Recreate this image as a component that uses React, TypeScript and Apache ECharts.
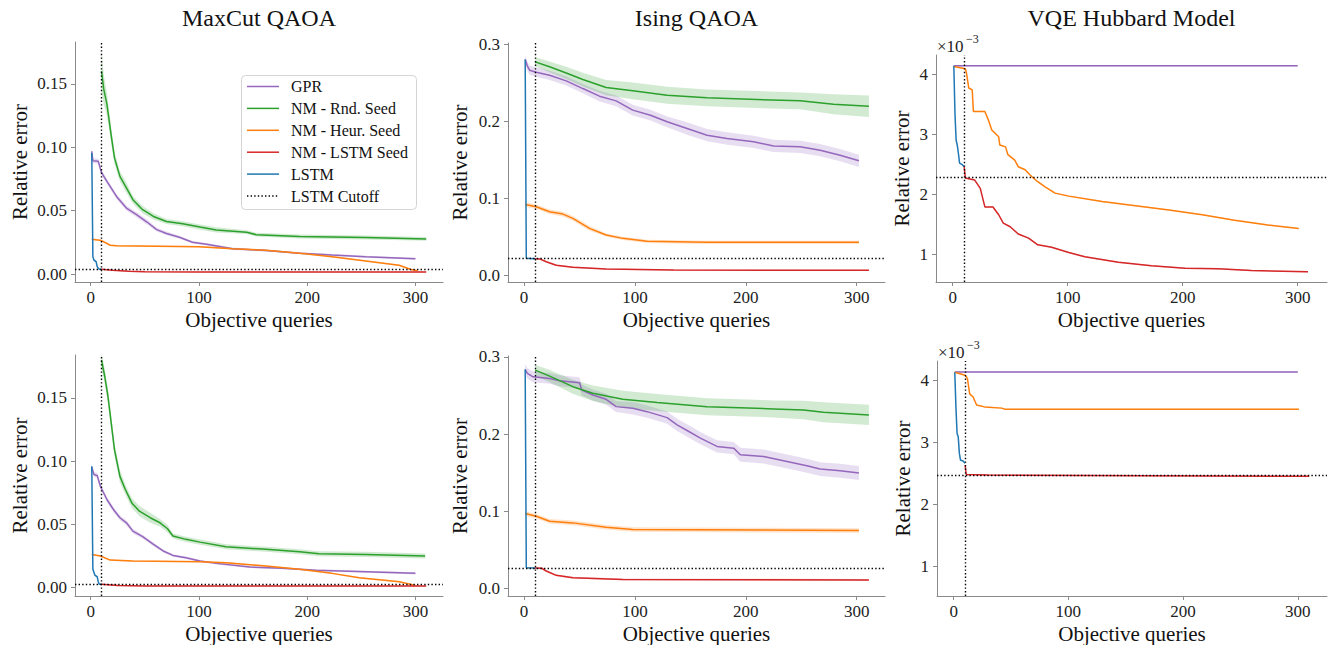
import React, { useEffect, useRef } from "react";
import * as echarts from "echarts";

const FONT = "'Liberation Serif', 'Times New Roman', serif";
const COLORS: Record<string, string> = {
  "GPR": "#9467bd",
  "NM - Rnd. Seed": "#2ca02c",
  "NM - Heur. Seed": "#ff7f0e",
  "NM - LSTM Seed": "#d62728",
  "LSTM": "#1f77b4",
  "LSTM Cutoff": "#000000",
};
const LEGEND_NAMES = ["GPR", "NM - Rnd. Seed", "NM - Heur. Seed", "NM - LSTM Seed", "LSTM", "LSTM Cutoff"];
const TITLES = ["MaxCut QAOA", "Ising QAOA", "VQE Hubbard Model"];
const X_TICKS = [0, 100, 200, 300];

// Each point: [objective queries, mean relative error, band half-width]
// ---- MaxCut QAOA (top)
const mcTopGPR = [[1,0.0968,0.002],[2,0.0894,0.002],[7,0.089,0.002],[10,0.08,0.002],[15,0.073,0.002],[24,0.061,0.002],[33,0.052,0.002],[42,0.047,0.002],[52,0.041,0.002],[61,0.035,0.0015],[70,0.032,0.0015],[82,0.029,0.0012],[94,0.025,0.001],[107,0.0235,0.001],[131,0.02,0.001],[162,0.0185,0.0008],[193,0.0164,0.0008],[223,0.015,0.0008],[254,0.0137,0.0008],[300,0.0121,0.0008]];
const mcTopRnd = [[10,0.16,0.016],[12,0.146,0.012],[15,0.134,0.009],[19,0.109,0.006],[22,0.0916,0.005],[27,0.077,0.004],[33,0.068,0.004],[39,0.0586,0.003],[48,0.0507,0.003],[58,0.0454,0.0025],[70,0.0414,0.002],[85,0.0396,0.002],[101,0.037,0.002],[116,0.0348,0.002],[144,0.033,0.0015],[153,0.031,0.0015],[193,0.0296,0.0015],[254,0.0288,0.0015],[310,0.0277,0.0015]];
const mcTopHeur = [[1,0.0274,0.0006],[10,0.0264,0.0006],[18,0.0227,0.0005],[24,0.0222,0.0005],[100,0.0216,0.0005],[131,0.02,0.0005],[162,0.0187,0.0005],[193,0.0164,0.0005],[223,0.0137,0.0005],[254,0.0103,0.0005],[285,0.0069,0.0005],[296,0.0035,0.0005],[302,0.0026,0.0005]];
const mcTopLstmSeed = [[10,0.0037,0.0004],[20,0.003,0.0004],[35,0.0022,0.0004],[50,0.0018,0.0004],[100,0.0016,0.0004],[310,0.0015,0.0004]];
const mcTopLstm = [[1,0.0955,0.002],[2,0.0137,0.001],[3,0.011,0.001],[5,0.0098,0.001],[6,0.0058,0.001],[7,0.0045,0.0008],[8,0.0037,0.0005],[10,0.0037,0.0005]];
const mcTopCutoff = [10, 0.0037];

// ---- Ising QAOA (top)
const isTopGPR = [[1,0.2805,0.006],[3,0.272,0.006],[5,0.2666,0.006],[11,0.264,0.006],[23,0.26,0.006],[38,0.2527,0.006],[53,0.2427,0.006],[68,0.2328,0.007],[83,0.2267,0.007],[98,0.2146,0.007],[114,0.208,0.007],[129,0.1994,0.007],[147,0.1907,0.008],[165,0.182,0.008],[183,0.1777,0.008],[207,0.1734,0.008],[225,0.168,0.008],[249,0.1669,0.008],[267,0.1625,0.008],[285,0.156,0.008],[302,0.1487,0.008]];
const isTopRnd = [[10,0.2774,0.006],[23,0.271,0.007],[38,0.263,0.008],[53,0.2544,0.009],[74,0.244,0.01],[98,0.2397,0.011],[129,0.234,0.011],[165,0.2306,0.011],[210,0.2284,0.011],[249,0.2267,0.011],[279,0.2224,0.013],[311,0.2198,0.014]];
const isTopHeur = [[1,0.0919,0.003],[11,0.0889,0.003],[23,0.0824,0.003],[35,0.0793,0.003],[44,0.0737,0.003],[59,0.0607,0.003],[74,0.052,0.002],[89,0.0477,0.002],[111,0.0438,0.002],[165,0.0425,0.002],[302,0.0425,0.002]];
const isTopLstmSeed = [[10,0.0212,0.001],[14,0.021,0.001],[20,0.0173,0.001],[29,0.0126,0.001],[44,0.01,0.001],[74,0.0078,0.0008],[135,0.0065,0.0008],[311,0.0061,0.0008]];
const isTopLstm = [[1,0.2805,0.004],[2,0.0217,0.001],[10,0.0212,0.001]];
const isTopCutoff = [10, 0.0212];

// ---- VQE Hubbard Model (top)
const vqTopGPR = [[1,4.14e-3,1e-5],[300,4.14e-3,1e-5]];
const vqTopHeur = [[1,4.13e-3,1e-5],[11,4.09e-3,1e-5],[12,4.02e-3,1e-5],[14,3.77e-3,1e-5],[17,3.74e-3,1e-5],[18,3.38e-3,1e-5],[28,3.38e-3,1e-5],[31,3.24e-3,1e-5],[34,3.07e-3,1e-5],[40,2.96e-3,1e-5],[41,2.82e-3,1e-5],[46,2.79e-3,1e-5],[48,2.66e-3,1e-5],[54,2.57e-3,1e-5],[57,2.46e-3,1e-5],[63,2.41e-3,1e-5],[69,2.29e-3,1e-5],[74,2.21e-3,1e-5],[80,2.13e-3,1e-5],[89,2.02e-3,1e-5],[101,1.97e-3,1e-5],[130,1.88e-3,1e-5],[159,1.81e-3,1e-5],[188,1.74e-3,1e-5],[217,1.66e-3,1e-5],[245,1.57e-3,1e-5],[274,1.49e-3,1e-5],[301,1.43e-3,1e-5]];
const vqTopLstmSeed = [[10,2.46e-3,1e-5],[11,2.27e-3,1e-5],[19,2.24e-3,1e-5],[24,2.1e-3,1e-5],[28,1.79e-3,1e-5],[35,1.79e-3,1e-5],[40,1.66e-3,1e-5],[44,1.52e-3,1e-5],[50,1.46e-3,1e-5],[57,1.34e-3,1e-5],[66,1.27e-3,1e-5],[74,1.16e-3,1e-5],[86,1.12e-3,1e-5],[101,1.03e-3,1e-5],[115,0.96e-3,1e-5],[144,0.87e-3,1e-5],[173,0.81e-3,1e-5],[202,0.77e-3,1e-5],[231,0.76e-3,1e-5],[260,0.73e-3,1e-5],[309,0.71e-3,1e-5]];
const vqTopLstm = [[1,4.14e-3,1e-5],[2,3.35e-3,1e-5],[3,2.9e-3,1e-5],[4,2.82e-3,1e-5],[5,2.68e-3,1e-5],[6,2.52e-3,1e-5],[8,2.5e-3,1e-5],[10,2.46e-3,1e-5]];
const vqTopCutoff = [10, 2.29e-3];

// ---- MaxCut QAOA (bottom)
const mcBotGPR = [[1,0.0953,0.002],[3,0.0895,0.002],[6,0.0887,0.002],[9,0.08,0.002],[15,0.0697,0.002],[21,0.0618,0.002],[27,0.0553,0.002],[33,0.0513,0.002],[39,0.0447,0.0018],[48,0.0403,0.0015],[58,0.0342,0.0015],[67,0.029,0.0012],[76,0.0255,0.001],[88,0.0237,0.001],[101,0.021,0.0008],[116,0.0192,0.0008],[147,0.0163,0.0008],[177,0.0153,0.0008],[208,0.0137,0.0008],[239,0.0129,0.0008],[300,0.0113,0.0008]];
const mcBotRnd = [[10,0.18,0.006],[13,0.167,0.006],[16,0.151,0.006],[19,0.13,0.006],[22,0.109,0.005],[27,0.088,0.005],[32,0.0776,0.004],[38,0.067,0.004],[45,0.0605,0.004],[55,0.0553,0.004],[64,0.0513,0.003],[71,0.0466,0.003],[76,0.0408,0.002],[88,0.0382,0.002],[101,0.036,0.002],[125,0.0324,0.002],[162,0.0303,0.002],[193,0.0284,0.002],[211,0.0268,0.002],[254,0.0263,0.002],[309,0.025,0.002]];
const mcBotHeur = [[1,0.0263,0.0005],[9,0.025,0.0005],[18,0.0218,0.0005],[39,0.021,0.0005],[101,0.0205,0.0005],[125,0.0197,0.0005],[162,0.0171,0.0005],[193,0.0145,0.0005],[223,0.0113,0.0005],[248,0.0079,0.0005],[285,0.0047,0.0005],[300,0.0018,0.0005]];
const mcBotLstmSeed = [[10,0.0026,0.0004],[25,0.0018,0.0004],[50,0.0013,0.0004],[310,0.0013,0.0004]];
const mcBotLstm = [[1,0.096,0.002],[2,0.0145,0.001],[4,0.0097,0.001],[6,0.0087,0.001],[7,0.0045,0.0008],[8,0.0026,0.0005],[10,0.0026,0.0005]];
const mcBotCutoff = [10, 0.0026];

// ---- Ising QAOA (bottom)
const isBotGPR = [[1,0.2836,0.007],[3,0.2785,0.007],[8,0.274,0.007],[23,0.272,0.007],[32,0.269,0.007],[50,0.2664,0.007],[52,0.257,0.007],[62,0.2505,0.007],[74,0.245,0.007],[83,0.2355,0.007],[98,0.2334,0.008],[111,0.229,0.008],[129,0.2213,0.008],[138,0.2119,0.008],[147,0.2046,0.008],[159,0.1947,0.008],[174,0.184,0.008],[189,0.1818,0.008],[195,0.1732,0.009],[216,0.171,0.009],[234,0.1654,0.009],[255,0.159,0.009],[267,0.1547,0.009],[285,0.1526,0.009],[302,0.1496,0.009]];
const isBotRnd = [[10,0.2828,0.007],[23,0.275,0.008],[44,0.2613,0.009],[62,0.2527,0.01],[89,0.245,0.011],[120,0.2407,0.011],[165,0.2355,0.011],[225,0.2325,0.011],[252,0.2312,0.012],[270,0.2282,0.013],[311,0.2248,0.013]];
const isBotHeur = [[1,0.0971,0.003],[11,0.0937,0.003],[23,0.0872,0.003],[44,0.0851,0.003],[74,0.0795,0.003],[98,0.0765,0.003],[302,0.0752,0.003]];
const isBotLstmSeed = [[10,0.0266,0.0012],[16,0.0264,0.0012],[20,0.0228,0.0012],[29,0.0172,0.0012],[44,0.0142,0.0012],[89,0.012,0.0012],[311,0.0112,0.0012]];
const isBotLstm = [[1,0.2836,0.004],[2,0.027,0.001],[10,0.0266,0.001]];
const isBotCutoff = [10, 0.0266];

// ---- VQE Hubbard Model (bottom)
const vqBotGPR = [[1,4.134e-3,1e-5],[300,4.134e-3,1e-5]];
const vqBotHeur = [[1,4.13e-3,1e-5],[10,4.08e-3,1e-5],[12,4.03e-3,1e-5],[14,3.78e-3,1e-5],[17,3.73e-3,1e-5],[20,3.6e-3,1e-5],[27,3.57e-3,1e-5],[42,3.55e-3,1e-5],[45,3.53e-3,1e-5],[301,3.53e-3,1e-5]];
const vqBotLstmSeed = [[10,2.63e-3,1e-5],[11,2.48e-3,1e-5],[30,2.47e-3,1e-5],[310,2.45e-3,1e-5]];
const vqBotLstm = [[1,4.13e-3,1e-5],[2,3.57e-3,1e-5],[3,3.14e-3,1e-5],[4,3.09e-3,1e-5],[5,2.82e-3,1e-5],[6,2.71e-3,1e-5],[8,2.7e-3,1e-5],[10,2.66e-3,1e-5]];
const vqBotCutoff = [10, 2.47e-3];

// Y tick values per panel
const Y_TICKS_MC = [0, 0.05, 0.1, 0.15];
const Y_TICKS_IS = [0, 0.1, 0.2, 0.3];
const Y_TICKS_VQ = [1e-3, 2e-3, 3e-3, 4e-3];

type Pt = number[];
interface Panel {
  grid: { left: number; top: number; width: number; height: number };
  yMin: number; yMax: number;
  yTicks: number[];
  fmt: (v: number) => string;
  nameGap: number;
  title?: string;
  series: { name: string; data: Pt[] }[];
  cutoff: number[];
}

const PANELS: Panel[] = [
  { grid: { left: 75, top: 42, width: 368, height: 240 }, yMin: -0.0063, yMax: 0.183, yTicks: Y_TICKS_MC, fmt: (v) => v.toFixed(2), nameGap: 45, title: TITLES[0],
    series: [{ name: "GPR", data: mcTopGPR }, { name: "NM - Rnd. Seed", data: mcTopRnd }, { name: "NM - Heur. Seed", data: mcTopHeur }, { name: "NM - LSTM Seed", data: mcTopLstmSeed }, { name: "LSTM", data: mcTopLstm }], cutoff: mcTopCutoff },
  { grid: { left: 508, top: 43, width: 377, height: 239 }, yMin: -0.0091, yMax: 0.302, yTicks: Y_TICKS_IS, fmt: (v) => v.toFixed(1), nameGap: 38, title: TITLES[1],
    series: [{ name: "GPR", data: isTopGPR }, { name: "NM - Rnd. Seed", data: isTopRnd }, { name: "NM - Heur. Seed", data: isTopHeur }, { name: "NM - LSTM Seed", data: isTopLstmSeed }, { name: "LSTM", data: isTopLstm }], cutoff: isTopCutoff },
  { grid: { left: 936, top: 55, width: 391, height: 227 }, yMin: 0.54e-3, yMax: 4.32e-3, yTicks: Y_TICKS_VQ, fmt: (v) => (v * 1000).toFixed(0), nameGap: 24, title: TITLES[2],
    series: [{ name: "GPR", data: vqTopGPR }, { name: "NM - Heur. Seed", data: vqTopHeur }, { name: "NM - LSTM Seed", data: vqTopLstmSeed }, { name: "LSTM", data: vqTopLstm }], cutoff: vqTopCutoff },
  { grid: { left: 75, top: 355, width: 368, height: 242 }, yMin: -0.0066, yMax: 0.184, yTicks: Y_TICKS_MC, fmt: (v) => v.toFixed(2), nameGap: 45,
    series: [{ name: "GPR", data: mcBotGPR }, { name: "NM - Rnd. Seed", data: mcBotRnd }, { name: "NM - Heur. Seed", data: mcBotHeur }, { name: "NM - LSTM Seed", data: mcBotLstmSeed }, { name: "LSTM", data: mcBotLstm }], cutoff: mcBotCutoff },
  { grid: { left: 508, top: 356, width: 377, height: 241 }, yMin: -0.0095, yMax: 0.301, yTicks: Y_TICKS_IS, fmt: (v) => v.toFixed(1), nameGap: 38,
    series: [{ name: "GPR", data: isBotGPR }, { name: "NM - Rnd. Seed", data: isBotRnd }, { name: "NM - Heur. Seed", data: isBotHeur }, { name: "NM - LSTM Seed", data: isBotLstmSeed }, { name: "LSTM", data: isBotLstm }], cutoff: isBotCutoff },
  { grid: { left: 937, top: 361, width: 390, height: 235 }, yMin: 0.52e-3, yMax: 4.31e-3, yTicks: Y_TICKS_VQ, fmt: (v) => (v * 1000).toFixed(0), nameGap: 24,
    series: [{ name: "GPR", data: vqBotGPR }, { name: "NM - Heur. Seed", data: vqBotHeur }, { name: "NM - LSTM Seed", data: vqBotLstmSeed }, { name: "LSTM", data: vqBotLstm }], cutoff: vqBotCutoff },
];

const SPINE = "#8a8a8a";
const ORDER = ["GPR", "NM - Rnd. Seed", "NM - Heur. Seed", "NM - LSTM Seed", "LSTM"];
const DOT: number[] = [1.4, 2.2];

function hexA(hex: string, a: number) {
  const n = parseInt(hex.slice(1), 16);
  return `rgba(${(n >> 16) & 255},${(n >> 8) & 255},${n & 255},${a})`;
}

function legendGraphics() {
  const box = { x: 241, y: 75, w: 175, h: 134 };
  const els: any[] = [{
    type: "rect", z: 100, shape: { x: box.x + 0.5, y: box.y + 0.5, width: box.w, height: box.h, r: 4 },
    style: { fill: "rgba(255,255,255,0.85)", stroke: "#d4d4d4", lineWidth: 1 },
  }];
  LEGEND_NAMES.forEach((name, k) => {
    const cy = 86.5 + k * 21.9;
    const isCut = name === "LSTM Cutoff";
    els.push({
      type: "line", z: 101, shape: { x1: 247, y1: cy, x2: 279, y2: cy },
      style: { stroke: COLORS[name], lineWidth: isCut ? 1.4 : 1.5, lineDash: isCut ? DOT : null },
    });
    els.push({
      type: "text", z: 101, x: 291, y: cy,
      style: { text: name, fontFamily: FONT, fontSize: 16, fill: "#111", textAlign: "left", textVerticalAlign: "middle" },
    });
  });
  return els;
}

function buildOption() {
  const grid: any[] = [];
  const xAxis: any[] = [];
  const yAxis: any[] = [];
  const series: any[] = [];
  const graphic: any[] = [];

  PANELS.forEach((p, i) => {
    grid.push({ ...p.grid, containLabel: false });
    xAxis.push({
      type: "value", gridIndex: i, min: -14.5, max: 325.5,
      name: "Objective queries", nameLocation: "middle", nameGap: 27,
      nameTextStyle: { fontFamily: FONT, fontSize: 21, color: "#111" },
      axisLine: { show: true, onZero: false, lineStyle: { color: SPINE, width: 1 } },
      axisTick: { show: true, length: 4, inside: false, customValues: X_TICKS, lineStyle: { color: SPINE } },
      axisLabel: { show: true, customValues: X_TICKS, margin: 7, fontFamily: FONT, fontSize: 17, color: "#222", formatter: (v: number) => String(Math.round(v)) },
      splitLine: { show: false },
    });
    yAxis.push({
      type: "value", gridIndex: i, min: p.yMin, max: p.yMax,
      name: "Relative error", nameLocation: "middle", nameGap: p.nameGap,
      nameTextStyle: { fontFamily: FONT, fontSize: 21, color: "#111" },
      axisLine: { show: true, onZero: false, lineStyle: { color: SPINE, width: 1 } },
      axisTick: { show: true, length: 4, inside: false, customValues: p.yTicks, lineStyle: { color: SPINE } },
      axisLabel: { show: true, customValues: p.yTicks, margin: 8, fontFamily: FONT, fontSize: 17, color: "#222", formatter: (v: number) => p.fmt(v) },
      splitLine: { show: false },
    });

    const sorted = ORDER.map((n) => p.series.find((s) => s.name === n)).filter(Boolean) as { name: string; data: Pt[] }[];
    sorted.forEach((s) => {
      const color = COLORS[s.name];
      const data = s.data;
      series.push({
        type: "custom", xAxisIndex: i, yAxisIndex: i, silent: true, z: 1, clip: true,
        data: [[data[0][0], data[0][1]]],
        renderItem: (_params: any, api: any) => {
          const up = data.map((d) => api.coord([d[0], d[1] + d[2]]));
          const lo = data.map((d) => api.coord([d[0], d[1] - d[2]])).reverse();
          return { type: "polygon", shape: { points: up.concat(lo) }, style: { fill: hexA(color, 0.22) } };
        },
      });
    });
    sorted.forEach((s) => {
      const color = COLORS[s.name];
      series.push({
        type: "line", name: s.name, xAxisIndex: i, yAxisIndex: i, z: 3, clip: true,
        data: s.data.map((d) => [d[0], d[1]]),
        symbol: "none", showSymbol: false,
        lineStyle: { color, width: 1.5 }, itemStyle: { color },
      });
    });
    series.push({
      type: "line", name: "LSTM Cutoff", xAxisIndex: i, yAxisIndex: i, z: 4,
      data: [[p.cutoff[0], p.cutoff[1]]], symbol: "none", showSymbol: false,
      lineStyle: { color: "#000", width: 1.4, type: DOT }, itemStyle: { color: "#000" },
      markLine: {
        silent: true, symbol: "none", label: { show: false }, precision: 8,
        lineStyle: { color: "#000", width: 1.4, type: DOT },
        data: [{ xAxis: p.cutoff[0] }, { yAxis: p.cutoff[1] }],
      },
    });

    if (p.title) {
      graphic.push({
        type: "text", x: p.grid.left + p.grid.width / 2, y: 18,
        style: { text: p.title, fontFamily: FONT, fontSize: 24, fill: "#111", textAlign: "center", textVerticalAlign: "middle" },
      });
    }
    if (p.yTicks === Y_TICKS_VQ) {
      graphic.push({
        type: "text", x: p.grid.left + 1, y: p.grid.top - 9,
        style: { text: "×10", fontFamily: FONT, fontSize: 17, fill: "#222", textAlign: "left", textVerticalAlign: "middle" },
      });
      graphic.push({
        type: "text", x: p.grid.left + 30, y: p.grid.top - 16,
        style: { text: "−3", fontFamily: FONT, fontSize: 12, fill: "#222", textAlign: "left", textVerticalAlign: "middle" },
      });
    }
  });

  graphic.push(...legendGraphics());

  return {
    animation: false,
    backgroundColor: "#fff",
    grid, xAxis, yAxis, series, graphic,
  };
}

export default function App() {
  const ref = useRef<HTMLDivElement>(null);
  useEffect(() => {
    if (!ref.current) return;
    const chart = echarts.init(ref.current, undefined, { renderer: "svg" });
    chart.setOption(buildOption() as any);
    return () => chart.dispose();
  }, []);
  return <div ref={ref} style={{ position: "fixed", left: 0, top: 0, width: 1332, height: 645, background: "#fff" }} />;
}
